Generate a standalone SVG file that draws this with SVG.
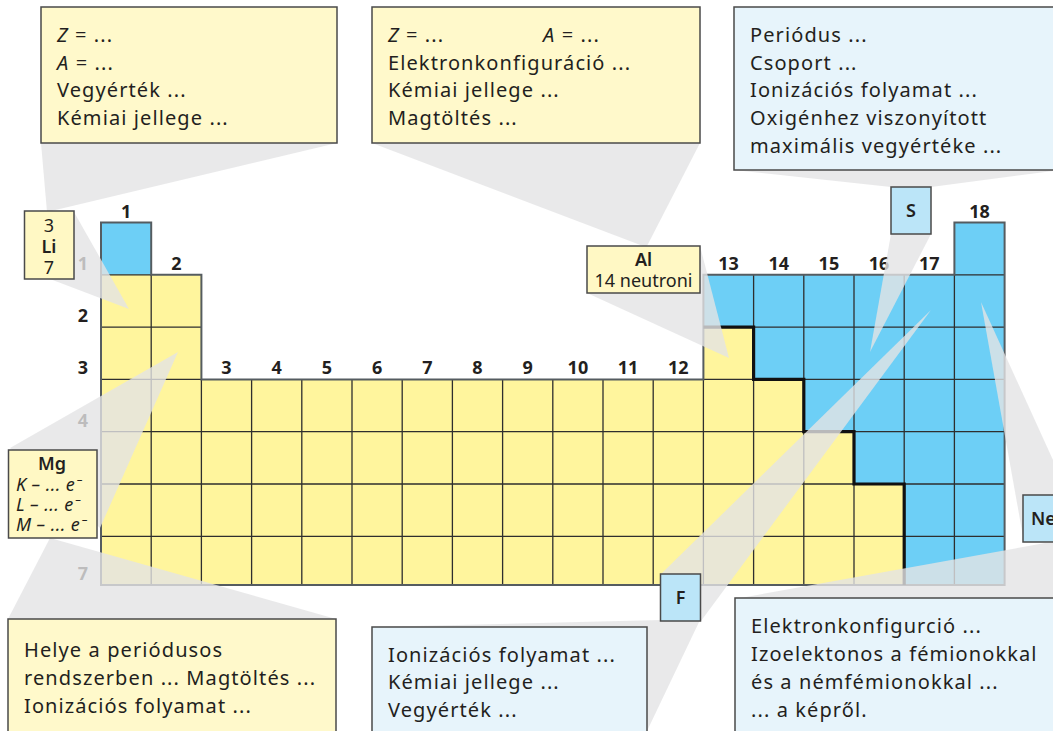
<svg xmlns="http://www.w3.org/2000/svg" width="1053" height="731" viewBox="0 0 1053 731">
<style>
.t{font-family:"Noto Sans","Open Sans",sans-serif;font-size:20px;fill:#231f20;letter-spacing:1.1px}
.s{font-family:"Noto Sans","Open Sans",sans-serif;font-size:18px;fill:#231f20}
.si{font-family:"Noto Sans","Open Sans",sans-serif;font-size:18px;fill:#231f20;font-style:italic;letter-spacing:0.4px}
.sb{font-family:"Noto Sans","Open Sans",sans-serif;font-size:18px;fill:#231f20;font-weight:600}
.n{font-family:"Noto Sans","Open Sans",sans-serif;font-size:18px;fill:#231f20;font-weight:700;text-anchor:middle}
.cy{fill:#FFF9CB;stroke:#4a4a4a;stroke-width:1.5}
.cb{fill:#E7F4FB;stroke:#4a4a4a;stroke-width:1.5}
.ey{fill:#FFF8C4;stroke:#4a4a4a;stroke-width:1.5}
.eb{fill:#BBE5F8;stroke:#4a4a4a;stroke-width:1.5}
.w{fill:#E3E3E5;fill-opacity:0.8;stroke:none}
</style>
<rect width="1053" height="731" fill="#ffffff"/>
<g id="table">
<rect x="101" y="222.5" width="50.2" height="52.3" fill="#6DCFF6"/>
<path fill="#FFF59D" d="M101 274.8H201.4V379.4H703.4V327.1H753.6V379.4H803.8V431.7H854V484H904.2V585H101Z"/>
<path fill="#6DCFF6" d="M703.4 274.8H954.4V222.5H1004.6V585H904.2V484H854V431.7H803.8V379.4H753.6V327.1H703.4Z"/>
<path fill="none" stroke="#2e2e2e" stroke-width="1.3" d="M101 274.8H151.2M954.4 274.8H1004.6M101 327.1H201.4M703.4 327.1H1004.6M101 379.4H201.4M703.4 379.4H1004.6M101 431.7H1004.6M101 484H1004.6M101 536.3H1004.6M151.2 274.8V585M201.4 379.4V585M251.6 379.4V585M301.8 379.4V585M352 379.4V585M402.2 379.4V585M452.4 379.4V585M502.6 379.4V585M552.8 379.4V585M603 379.4V585M653.2 379.4V585M703.4 379.4V585M753.6 274.8V585M803.8 274.8V585M854 274.8V585M904.2 274.8V585M954.4 274.8V585"/>
<path fill="none" stroke="#555c60" stroke-width="2" d="M101 222.5H151.2V274.8H201.4V379.4H703.4V274.8H954.4V222.5H1004.6V585H101Z"/>
<path fill="none" stroke="#111" stroke-width="3.2" d="M703.4 327.1H753.6V379.4H803.8V431.7H854V484H904.2V585"/>
<text class="n" x="126.1" y="217.5">1</text>
<text class="n" x="176.3" y="269.8">2</text>
<text class="n" x="226.5" y="374.4">3</text>
<text class="n" x="276.7" y="374.4">4</text>
<text class="n" x="326.9" y="374.4">5</text>
<text class="n" x="377.1" y="374.4">6</text>
<text class="n" x="427.3" y="374.4">7</text>
<text class="n" x="477.5" y="374.4">8</text>
<text class="n" x="527.7" y="374.4">9</text>
<text class="n" x="577.9" y="374.4">10</text>
<text class="n" x="628.1" y="374.4">11</text>
<text class="n" x="678.3" y="374.4">12</text>
<text class="n" x="728.5" y="269.8">13</text>
<text class="n" x="778.7" y="269.8">14</text>
<text class="n" x="828.9" y="269.8">15</text>
<text class="n" x="879.1" y="269.8">16</text>
<text class="n" x="929.3" y="269.8">17</text>
<text class="n" x="979.5" y="217.5">18</text>
<text class="n" x="83" y="269.8">1</text>
<text class="n" x="83" y="322.1">2</text>
<text class="n" x="83" y="374.4">3</text>
<text class="n" x="83" y="426.7">4</text>
<text class="n" x="83" y="580">7</text>
</g>
<g id="connectors">
<polygon class="w" points="41,143 337,143 47,212"/>
<polygon class="w" points="60,212 74,212 129,309 50,279"/>
<polygon class="w" points="372,143 700,143 647,246 643,246"/>
<polygon class="w" points="700,246 729,358 587,293"/>
<polygon class="w" points="734,170 1060,170 931,187 891,187"/>
<polygon class="w" points="891,234 931,234 870,352"/>
<polygon class="w" points="10,448 178,352 100,528"/>
<polygon class="w" points="8,619 50,538 336,619"/>
<polygon class="w" points="661,574 931,310 701,621"/>
<polygon class="w" points="372,627 661,620 700,620 647,731 372,731"/>
<polygon class="w" points="1024,542 981,302 1053,460 1053,542"/>
<polygon class="w" points="735,599 1045,543 1053,543 1053,599"/>
</g>
<g id="callout-li">
<rect class="cy" x="41" y="7" width="296" height="136"/>
<text class="t" x="57" y="42"><tspan font-style="italic">Z</tspan> = ...</text>
<text class="t" x="57" y="70"><tspan font-style="italic">A</tspan> = ...</text>
<text class="t" x="57" y="97">Vegyérték ...</text>
<text class="t" x="57" y="125">Kémiai jellege ...</text>
</g>
<g id="callout-al">
<rect class="cy" x="372" y="7" width="328" height="136"/>
<text class="t" x="388" y="42"><tspan font-style="italic">Z</tspan> = ...</text>
<text class="t" x="543" y="42"><tspan font-style="italic">A</tspan> = ...</text>
<text class="t" x="388" y="70">Elektronkonfiguráció ...</text>
<text class="t" x="388" y="97">Kémiai jellege ...</text>
<text class="t" x="388" y="125">Magtöltés ...</text>
</g>
<g id="callout-s">
<rect class="cb" x="734" y="7" width="330" height="163"/>
<text class="t" x="750" y="42">Periódus ...</text>
<text class="t" x="750" y="70">Csoport ...</text>
<text class="t" x="750" y="97">Ionizációs folyamat ...</text>
<text class="t" x="750" y="125">Oxigénhez viszonyított</text>
<text class="t" x="750" y="153">maximális vegyértéke ...</text>
</g>
<g id="callout-mg">
<rect class="cy" x="8" y="619" width="328" height="120"/>
<text class="t" x="24" y="657">Helye a periódusos</text>
<text class="t" x="24" y="685">rendszerben ... Magtöltés ...</text>
<text class="t" x="24" y="713">Ionizációs folyamat ...</text>
</g>
<g id="callout-f">
<rect class="cb" x="372" y="627" width="275" height="112"/>
<text class="t" x="388" y="662">Ionizációs folyamat ...</text>
<text class="t" x="388" y="689">Kémiai jellege ...</text>
<text class="t" x="388" y="717">Vegyérték ...</text>
</g>
<g id="callout-ne">
<rect class="cb" x="735" y="598" width="330" height="140"/>
<text class="t" x="751" y="633">Elektronkonfigurció ...</text>
<text class="t" x="751" y="661">Izoelektonos a fémionokkal</text>
<text class="t" x="751" y="689">és a némfémionokkal ...</text>
<text class="t" x="751" y="717">... a képről.</text>
</g>
<g id="el-li">
<rect class="ey" x="24.5" y="211" width="49.5" height="68"/>
<text class="s" x="49" y="232" text-anchor="middle">3</text>
<text class="sb" x="49" y="253" text-anchor="middle">Li</text>
<text class="s" x="49" y="274" text-anchor="middle">7</text>
</g>
<g id="el-al">
<rect class="ey" x="587" y="246" width="113" height="47"/>
<text class="sb" x="643.5" y="266" text-anchor="middle">Al</text>
<text class="s" x="643.5" y="287" text-anchor="middle">14 neutroni</text>
</g>
<g id="el-mg">
<rect class="ey" x="8.5" y="450" width="88.5" height="88"/>
<text class="sb" x="52" y="470" text-anchor="middle" font-size="19">Mg</text>
<text class="si" x="16" y="491">K – ... e⁻</text>
<text class="si" x="16" y="511">L – ... e⁻</text>
<text class="si" x="16" y="531">M – ... e⁻</text>
</g>
<g id="el-s">
<rect class="eb" x="891" y="187" width="40" height="47"/>
<text class="sb" x="911" y="217" text-anchor="middle">S</text>
</g>
<g id="el-f">
<rect class="eb" x="660.5" y="574" width="40" height="47"/>
<text class="sb" x="680.5" y="604" text-anchor="middle">F</text>
</g>
<g id="el-ne">
<rect class="eb" x="1023" y="495" width="40" height="47"/>
<text class="sb" x="1031" y="525">Ne</text>
</g>
</svg>
